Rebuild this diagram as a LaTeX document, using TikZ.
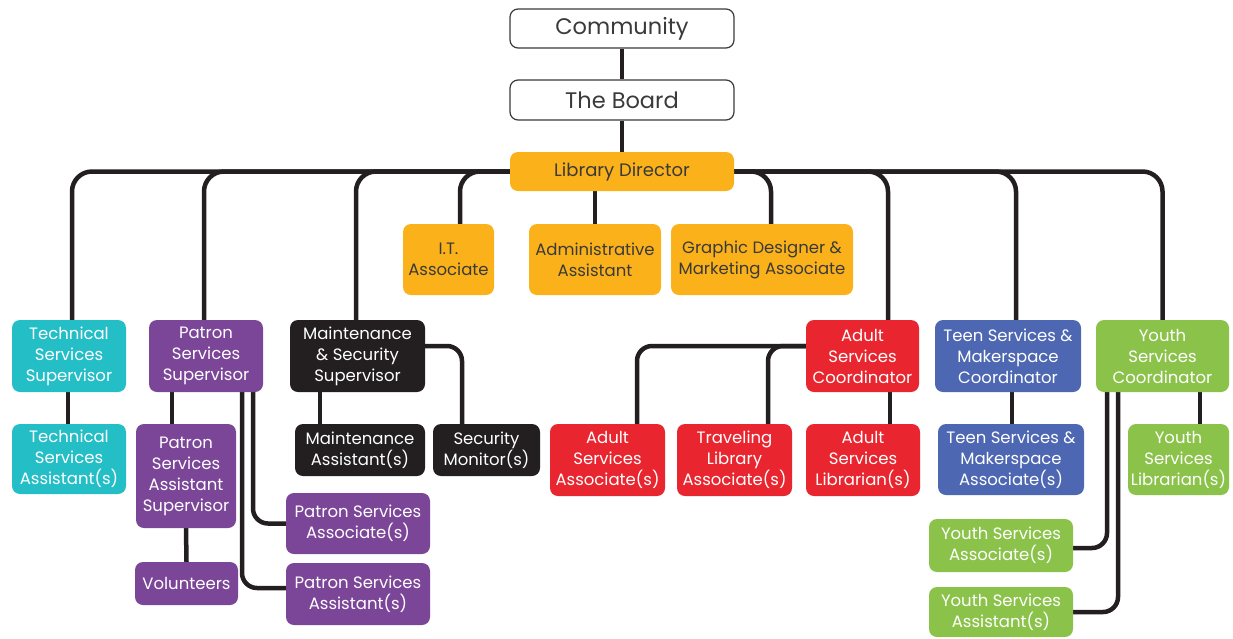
\documentclass[tikz,border=0pt]{standalone}
\usepackage{fontspec}
\setmainfont{Poppins}
\pgfdeclarelayer{bg}
\pgfsetlayers{bg,main}
\definecolor{cOr}{HTML}{FBB11A}
\definecolor{cTe}{HTML}{24BEC6}
\definecolor{cPu}{HTML}{7B4698}
\definecolor{cBk}{HTML}{231F20}
\definecolor{cRe}{HTML}{E9262F}
\definecolor{cBl}{HTML}{4E67B2}
\definecolor{cGr}{HTML}{8BC34A}
\definecolor{cTx}{HTML}{3A3A3A}
\tikzset{
  box/.style={rounded corners=8pt, inner sep=0pt, align=center, font=\fontsize{16.5}{21}\selectfont},
  wbox/.style={box, draw=cTx, line width=1.2pt, fill=white, text=cTx, font=\fontsize{22.5}{24}\selectfont},
  obox/.style={box, fill=cOr, text=cTx},
  cbox/.style={box, fill=#1, text=white},
  conn/.style={line width=4.5pt, draw=cBk, rounded corners=20pt},
  sconn/.style={line width=4.5pt, draw=cBk, rounded corners=15pt},
}
\newcommand{\bx}[6]{\node[#1, minimum width=#4pt, minimum height=#5pt] (#2) at (#3) {#6};}
\begin{document}
\begin{tikzpicture}[x=1pt,y=-1pt]
\useasboundingbox (0,0) rectangle (1233,638);
\bx{wbox}{com}{622,28.5}{224}{39}{Community}
\bx{wbox}{brd}{622,100}{224}{40}{The Board}
\bx{obox,font=\fontsize{18}{20}\selectfont}{dir}{622,171.5}{224}{39}{Library Director}
\bx{obox}{it}{448.5,259.5}{91}{71}{I.T.\\Associate}
\bx{obox}{adm}{595,259.5}{132}{71}{Administrative\\Assistant}
\bx{obox}{gd}{762,259.5}{182}{71}{Graphic Designer \&\\Marketing Associate}
\bx{cbox=cTe}{tss}{69,356}{114}{72}{Technical\\Services\\Supervisor}
\bx{cbox=cPu}{pss}{206,356}{114}{72}{Patron\\Services\\Supervisor}
\bx{cbox=cBk}{mss}{357.5,356}{135}{72}{Maintenance\\\& Security\\Supervisor}
\bx{cbox=cRe}{asc}{862.5,356}{113}{72}{Adult\\Services\\Coordinator}
\bx{cbox=cBl}{tsc}{1008,356}{146}{72}{Teen Services \&\\Makerspace\\Coordinator}
\bx{cbox=cGr}{ysc}{1162.5,356}{133}{72}{Youth\\Services\\Coordinator}
\bx{cbox=cTe}{tsa}{69,459}{114}{70}{Technical\\Services\\Assistant(s)}
\bx{cbox=cPu}{psas}{186,476}{100}{104}{Patron\\Services\\Assistant\\Supervisor}
\bx{cbox=cPu}{vol}{186.5,583.5}{103}{43}{Volunteers}
\bx{cbox=cPu}{psa}{358,523.5}{144}{61}{Patron Services\\Associate(s)}
\bx{cbox=cPu}{psast}{358,594}{144}{62}{Patron Services\\Assistant(s)}
\bx{cbox=cBk}{ma}{360,450}{130}{52}{Maintenance\\Assistant(s)}
\bx{cbox=cBk}{sm}{486.5,450}{107}{52}{Security\\Monitor(s)}
\bx{cbox=cRe}{asa}{607.5,460}{115}{72}{Adult\\Services\\Associate(s)}
\bx{cbox=cRe}{tla}{734.5,460}{115}{72}{Traveling\\Library\\Associate(s)}
\bx{cbox=cRe}{asl}{863,460}{114}{72}{Adult\\Services\\Librarian(s)}
\bx{cbox=cBl}{tsma}{1011,459.5}{146}{71}{Teen Services \&\\Makerspace\\Associate(s)}
\bx{cbox=cGr}{ysl}{1178.5,459.5}{101}{71}{Youth\\Services\\Librarian(s)}
\bx{cbox=cGr}{ysa}{1001,545.5}{144}{53}{Youth Services\\Associate(s)}
\bx{cbox=cGr}{ysast}{1001,612}{144}{50}{Youth Services\\Assistant(s)}
\begin{pgfonlayer}{bg}
\draw[conn] (com.south) -- (brd.north);
\draw[conn] (brd.south) -- (dir.north);
\draw[conn] (dir.west) -| ([xshift=3pt]tss.north);
\draw[conn] (dir.west) -| ([xshift=-2pt]pss.north);
\draw[conn] (dir.west) -| ([xshift=-1.5pt]mss.north);
\draw[conn] (dir.west) -| ([xshift=11.5pt]it.north);
\draw[conn] (adm.north) -- (adm.north |- dir.south);
\draw[conn] (dir.east) -| ([xshift=9pt]gd.north);
\draw[conn] (dir.east) -| ([xshift=25.5pt]asc.north);
\draw[conn] (dir.east) -| ([xshift=8pt]tsc.north);
\draw[conn] (dir.east) -| (ysc.north);
\draw[sconn] ([xshift=-1pt]tss.south) -- ([xshift=-1pt]tsa.north);
\draw[sconn] ([xshift=-14pt]psas.north |- pss.south) -- ([xshift=-14pt]psas.north);
\draw[sconn] (psas.south) -- (vol.north);
\draw[sconn] ([xshift=47pt]pss.south) |- (psa.west);
\draw[sconn] ([xshift=36pt]pss.south) |- ([yshift=6pt]psast.west);
\draw[sconn] ([xshift=-40pt]ma.north |- mss.south) -- ([xshift=-40pt]ma.north);
\draw[sconn] ([yshift=10pt]mss.east) -| ([xshift=-24.5pt]sm.north);
\draw[sconn] ([yshift=10pt]asc.west) -| ([xshift=29.5pt]asa.north);
\draw[sconn] ([yshift=10pt]asc.west) -| ([xshift=33.5pt]tla.north);
\draw[sconn] ([xshift=27pt]asl.north |- asc.south) -- ([xshift=27pt]asl.north);
\draw[sconn] ([xshift=1pt]tsma.north |- tsc.south) -- ([xshift=1pt]tsma.north);
\draw[sconn] ([xshift=21.5pt]ysl.north |- ysc.south) -- ([xshift=21.5pt]ysl.north);
\draw[sconn] ([xshift=-55.5pt]ysc.south) |- ([yshift=-2.5pt]ysa.east);
\draw[sconn] ([xshift=-44.5pt]ysc.south) |- (ysast.east);
\end{pgfonlayer}
\end{tikzpicture}
\end{document}
